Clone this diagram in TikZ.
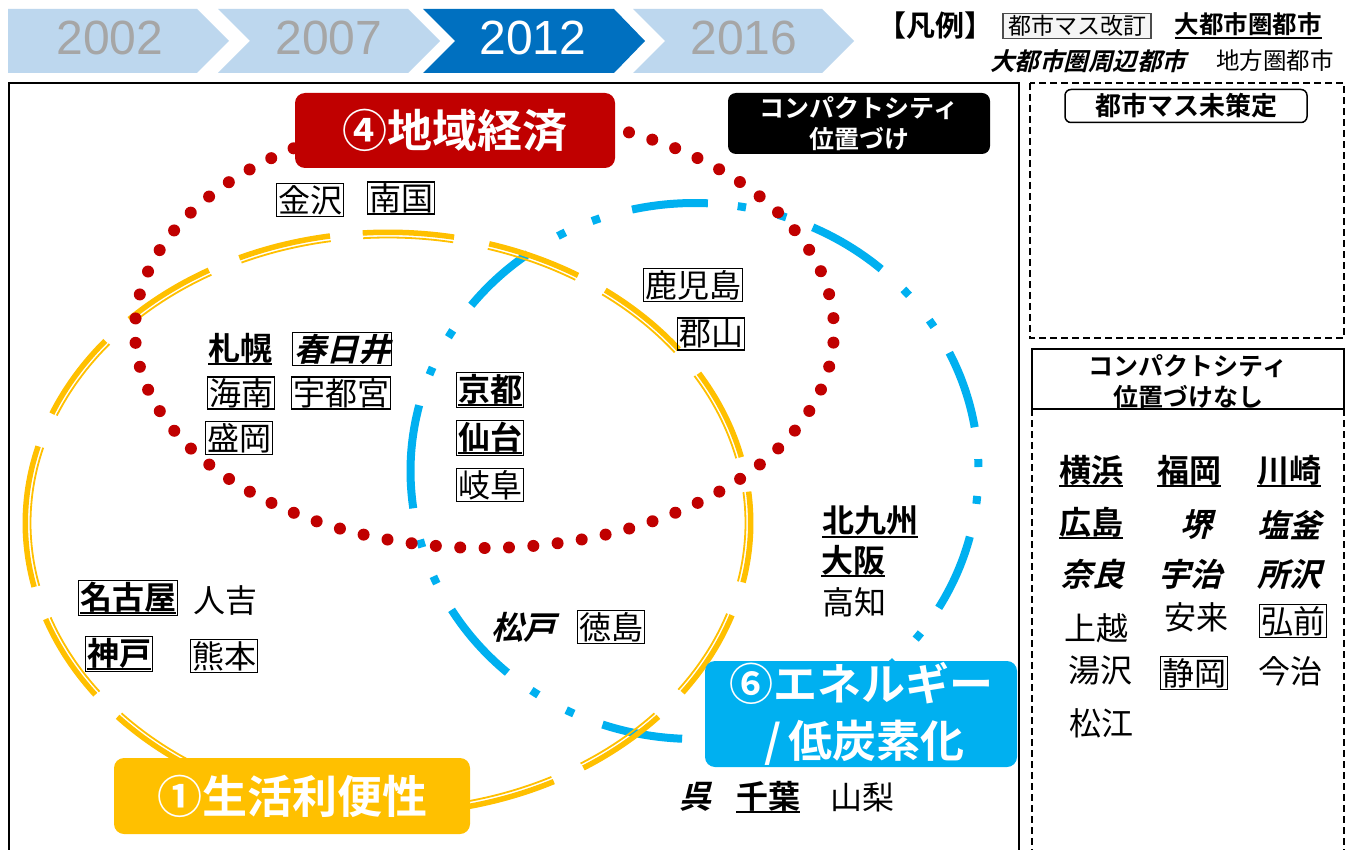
\documentclass[tikz,border=0pt]{standalone}
\usepackage{fontspec}
\setmainfont{Noto Sans CJK JP}[BoldFont={Noto Sans CJK JP Bold},ItalicFont={Noto Sans CJK JP},ItalicFeatures={FakeSlant=0.25},BoldItalicFont={Noto Sans CJK JP Bold},BoldItalicFeatures={FakeSlant=0.25}]
\newfontfamily\yearfont{Liberation Sans}
\newcommand{\ulx}[1]{\sbox0{#1}\rlap{\rule[-5pt]{\wd0}{2pt}}\usebox0}
\definecolor{lb}{HTML}{BDD7EE}
\definecolor{db}{HTML}{0070C0}
\definecolor{yg}{HTML}{A6A6A6}
\definecolor{yel}{HTML}{FFC000}
\definecolor{cyb}{HTML}{00B0F0}
\definecolor{rd}{HTML}{C00000}
\tikzset{
  city/.style={font=\fontsize{32}{36}\selectfont, inner sep=1.5pt},
  bx/.style={draw=black, line width=1.5pt},
  yr/.style={font=\yearfont\fontsize{48}{50}\selectfont, text=yg},
  ythick/.style={draw=yel, line width=5.5pt},
  ythin/.style={draw=yel, line width=1.8pt},
  bdash/.style={draw=cyb, line width=8pt},
  rdots/.style={draw=rd, line width=12pt, line cap=round, dash pattern=on 0pt off 24.4pt, dash phase=12pt},
  bigbox/.style={rounded corners=10pt, text=white, font=\bfseries\fontsize{45}{57}\selectfont, align=center},
  dsh/.style={line width=1.6pt, dash pattern=on 7pt off 4pt},
}
\begin{document}
\begin{tikzpicture}[x=1pt,y=-1pt]
\useasboundingbox (0,0) rectangle (1352,850);
\fill[white] (0,0) rectangle (1352,850);
% chevrons
\fill[lb] (8,9) -- (197,9) -- (229,41) -- (197,73) -- (8,73) -- cycle;
\fill[lb] (218,9) -- (408,9) -- (440,41) -- (408,73) -- (218,73) -- (250,41) -- cycle;
\fill[db] (423,9) -- (614,9) -- (645,41) -- (614,73) -- (423,73) -- (455,41) -- cycle;
\fill[lb] (633,9) -- (822,9) -- (854,41) -- (822,73) -- (633,73) -- (665,41) -- cycle;
\node[yr] (y2002) at (110,38) {2002};
\node[yr] (y2007) at (329,38) {2007};
\node[yr, text=white] (y2012) at (533,38) {2012};
\node[yr] (y2016) at (744,38) {2016};
% legend
\node[font=\bfseries\fontsize{29}{32}\selectfont, inner sep=0pt] (hanrei) at (935,26) {【凡例】};
\node[font=\fontsize{23}{27}\selectfont, fill=gray!8, draw=black!70, line width=1.2pt, inner xsep=5pt, inner ysep=2pt] (kaitei) at (1077,26) {都市マス改訂};
\node[font=\fontsize{24.5}{28}\selectfont, inner sep=0pt] (daitoshi) at (1248,26) {\ulx{\textbf{大都市圏都市}}};
\node[font=\fontsize{24.5}{28}\selectfont, inner sep=0pt] (shuhen) at (1088,61) {\textbf{\textit{大都市圏周辺都市}}};
\node[font=\fontsize{23.5}{26}\selectfont, inner sep=0pt] (chiho) at (1275,61) {地方圏都市};
% main frame
\draw[line width=2pt] (9,852) -- (9,83) -- (1019,83) -- (1019,852);
% right panel
\draw[dsh] (1030,83) rectangle (1344,338);
\node[draw, line width=1.5pt, rounded corners=6pt, minimum width=242pt, minimum height=33pt, font=\bfseries\fontsize{26}{30}\selectfont, inner sep=0pt] (misakutei) at (1186,106) {都市マス未策定};
\draw[line width=1.5pt] (1032,349) rectangle (1344,409);
\node[font=\bfseries\fontsize{25}{31}\selectfont, align=center, inner sep=0pt] (nashi) at (1188,382) {コンパクトシティ\\位置づけなし};
\draw[dsh] (1032,409) -- (1032,852);
\draw[dsh] (1344,409) -- (1344,852);
% blue ellipse
\foreach \a/\b in {294.6/311.1, 257.3/272.7, 218.2/234.1, 172/194.2, 131.2/148.8, 92.5/108.9, 55/72, 14.2/30.7, 333.8/350.6}{
  \draw[bdash] plot[domain=\a:\b, samples=25] ({694.5+284*cos(\x)},{471+268*sin(\x)});
}
\foreach \c in {318.2, 326.6, 358.3, 366.2, 279.6, 288, 242.1, 249.7, 201.9, 210.8, 156, 164.3, 116, 124.2, 38, 46, 80, 86}{
  \pgfmathsetmacro\ca{\c-0.85}
  \pgfmathsetmacro\cb{\c+0.85}
  \draw[bdash] plot[domain=\ca:\cb, samples=3] ({694.5+284*cos(\x)},{471+268*sin(\x)});
}
% yellow ellipse
\foreach \a/\b in {224.5/240.4, 245.8/260.8, 266/280.5, 286.2/301.6, 306.8/323.3, 329/346.9, 353.8/371.8, 378.5/395.7, 401.8/417.4, 422.8/437, 443/458, 463/478, 120/138.2, 143.8/160.7, 167.3/195.3, 202.1/218.8}{
  \draw[ythick] plot[domain=\a:\b, samples=25] ({388+362.75*cos(\x)},{523+290.75*sin(\x)});
  \draw[ythin] plot[domain=\a:\b, samples=25] ({388+357.5*cos(\x)},{523+285.5*sin(\x)});
}
% red dotted ellipse
\draw[rdots] (484.5,330.5) ellipse [x radius=349.5pt, y radius=217.5pt];
% label boxes
\node[bigbox, fill=rd, minimum width=320pt, minimum height=75pt, inner sep=0pt] (keizai) at (455,130.5) {④地域経済};
\node[bigbox, fill=yel, minimum width=356pt, minimum height=76pt, inner sep=0pt] (seikatsu) at (292,796) {①生活利便性};
\node[bigbox, fill=cyb, minimum width=312pt, minimum height=106pt, inner sep=0pt, font=\bfseries\fontsize{44}{57}\selectfont] (energy) at (861,714) {⑥エネルギー\\\,/\,低炭素化};
\node[fill=black, rounded corners=8pt, minimum width=262pt, minimum height=61pt, inner sep=0pt, text=white, font=\bfseries\fontsize{25}{31}\selectfont, align=center] (compact) at (859,123.5) {コンパクトシティ\\位置づけ};
% cities main
\node[city,bx] (kanazawa) at (310,200) {金沢};
\node[city,bx] (nangoku) at (401,198) {南国};
\node[city] (sapporo) at (240,349) {\ulx{\textbf{札幌}}};
\node[city,bx] (kasugai) at (342,349) {\textbf{\textit{春日井}}};
\node[city,bx] (kainan) at (241,393) {海南};
\node[city,bx] (utsunomiya) at (341,393) {宇都宮};
\node[city,bx] (morioka) at (239,438) {盛岡};
\node[city,bx] (kyoto) at (490,390) {\ulx{\textbf{京都}}};
\node[city,bx] (sendai) at (490,438) {\ulx{\textbf{仙台}}};
\node[city,bx] (gifu) at (490,485) {岐阜};
\node[city,bx] (kagoshima) at (693,285) {鹿児島};
\node[city,bx] (koriyama) at (711,334) {郡山};
\node[city,bx] (nagoya) at (128,598) {\ulx{\textbf{名古屋}}};
\node[city] (hitoyoshi) at (225,600) {人吉};
\node[city,bx] (kobe) at (119,654) {\ulx{\textbf{神戸}}};
\node[city,bx] (kumamoto) at (224,656) {熊本};
\node[city] (matsudo) at (523,627) {\textbf{\textit{松戸}}};
\node[city,bx] (tokushima) at (611,627) {徳島};
\node[city] (kitakyushu) at (870,522) {\ulx{\textbf{北九州}}};
\node[city] (osaka) at (853,561) {\ulx{\textbf{大阪}}};
\node[city] (kochi) at (854,602) {高知};
\node[city] (kure) at (695,797) {\textbf{\textit{呉}}};
\node[city] (chiba) at (768,797) {\ulx{\textbf{千葉}}};
\node[city] (yamanashi) at (862,797) {山梨};
% cities right panel
\node[city] (yokohama) at (1091,471) {\ulx{\textbf{横浜}}};
\node[city] (fukuoka) at (1189,471) {\ulx{\textbf{福岡}}};
\node[city] (kawasaki) at (1289,471) {\ulx{\textbf{川崎}}};
\node[city] (hiroshima) at (1091,523) {\ulx{\textbf{広島}}};
\node[city] (sakai) at (1196,525) {\textbf{\textit{堺}}};
\node[city] (shiogama) at (1289,525) {\textbf{\textit{塩釜}}};
\node[city] (nara) at (1092,574) {\textbf{\textit{奈良}}};
\node[city] (uji) at (1190,574) {\textbf{\textit{宇治}}};
\node[city] (tokorozawa) at (1289,574) {\textbf{\textit{所沢}}};
\node[city] (joetsu) at (1096,628) {上越};
\node[city] (yasugi) at (1196,617) {安来};
\node[city,bx] (hirosaki) at (1293,621) {弘前};
\node[city] (yuzawa) at (1100,671) {湯沢};
\node[city,bx] (shizuoka) at (1194,673) {静岡};
\node[city] (imabari) at (1290,671) {今治};
\node[city] (matsue) at (1101,723) {松江};
\end{tikzpicture}
\end{document}
